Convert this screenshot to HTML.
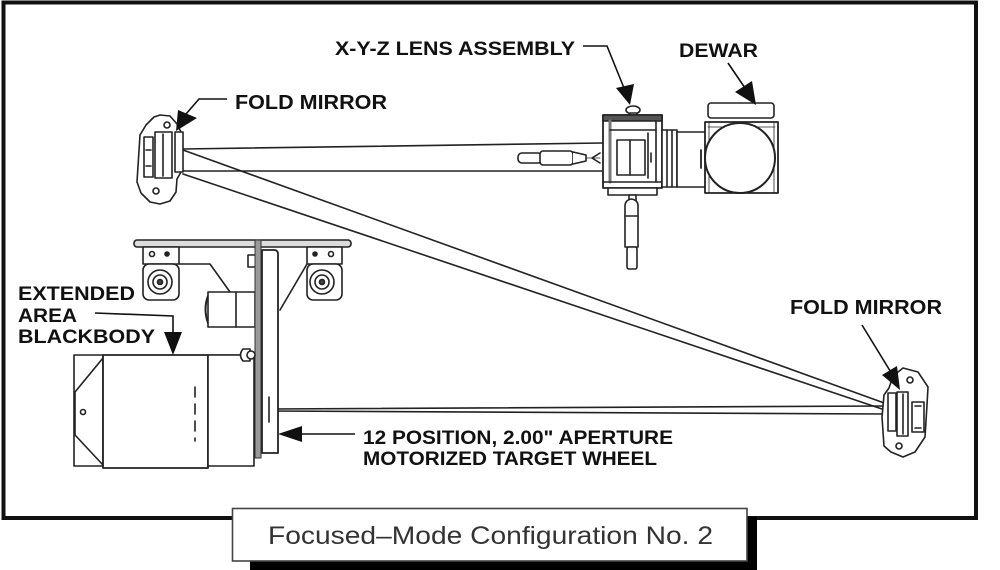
<!DOCTYPE html>
<html>
<head>
<meta charset="utf-8">
<style>
  html, body { margin:0; padding:0; background:#fff; }
  svg { display:block; }
  .lbl { font-family: "Liberation Sans", Arial, sans-serif; font-weight: bold; fill:#111; }
  .cap { font-family: "Liberation Sans", Arial, sans-serif; fill:#333; }
</style>
</head>
<body>
<svg width="1000" height="570" viewBox="0 0 1000 570" xmlns="http://www.w3.org/2000/svg">
  <rect x="0" y="0" width="1000" height="570" fill="#fff"/>

  <!-- outer frame -->
  <rect x="3.5" y="2.5" width="972.5" height="515.5" fill="none" stroke="#111" stroke-width="4"/>

  <g fill="none" stroke="#222" stroke-width="1.6" stroke-linejoin="round" stroke-linecap="round">
    <!-- beams -->
    <line x1="183" y1="149" x2="603" y2="143"/>
    <line x1="183" y1="171" x2="603" y2="171"/>
    <line x1="183" y1="150" x2="887" y2="404"/>
    <line x1="183" y1="174" x2="885" y2="410"/>
    <line x1="270" y1="409" x2="886" y2="406"/>
    <line x1="270" y1="411" x2="886" y2="414"/>

    <!-- top-left fold mirror -->
    <polygon points="160,115 170,116 177,124 181,132 181,172 177,179 176,192 170,201 160,204 150,202 141,193 137,182 140,135 146,125 154,117" fill="#fff"/>
    <rect x="144" y="137" width="9" height="40" fill="#fff"/>
    <line x1="146" y1="150" x2="151" y2="150"/>
    <line x1="146" y1="166" x2="151" y2="166"/>
    <rect x="155" y="132" width="17" height="46" fill="#fff"/>
    <line x1="163" y1="134" x2="163" y2="176"/>
    <rect x="175" y="132" width="8" height="40" fill="#fff"/>
    <circle cx="167" cy="125" r="3"/>
    <circle cx="156" cy="191" r="3"/>

    <!-- bottom-right fold mirror -->
    <polygon points="903,368 918,372 928,387 927,405 925,437 915,452 903,457 891,452 884,446 882,417 884,395 889,388 893,376" fill="#fff"/>
    <rect x="888" y="393" width="8" height="38" fill="#fff"/>
    <rect x="897" y="392" width="11" height="44" fill="#fff"/>
    <line x1="903" y1="394" x2="903" y2="434"/>
    <rect x="912" y="402" width="12" height="30" fill="#fff"/>
    <line x1="915" y1="406" x2="921" y2="406"/>
    <line x1="915" y1="428" x2="921" y2="428"/>
    <circle cx="910" cy="380" r="3"/>
    <circle cx="899" cy="446" r="3"/>

    <!-- lens assembly -->
    <line x1="518" y1="158" x2="600" y2="158" stroke-width="0.8"/>
    <rect x="518" y="153" width="24" height="10" rx="4" fill="#fff"/>
    <rect x="540" y="151" width="33" height="14" rx="3" fill="#fff"/>
    <path d="M573,152 L586,155 L586,161 L573,164" fill="#fff"/>
    <path d="M600,153 L592,158 L600,163"/>
    <ellipse cx="633" cy="110" rx="7" ry="4" fill="#fff"/>
    <rect x="630" y="113" width="7" height="9" fill="#fff"/>
    <rect x="603" y="115" width="59" height="73" fill="#fff" stroke-width="1.8"/>
    <rect x="603" y="115" width="59" height="6" fill="#555"/>
    <line x1="610" y1="121" x2="610" y2="182" stroke="#777" stroke-width="3"/>
    <line x1="656" y1="121" x2="656" y2="182"/>
    <line x1="610" y1="130" x2="656" y2="130"/>
    <rect x="617" y="140" width="28" height="35" fill="#fff"/>
    <line x1="630" y1="140" x2="630" y2="175"/>
    <line x1="648" y1="133" x2="648" y2="178"/>
    <line x1="651" y1="153" x2="651" y2="162"/>
    <line x1="603" y1="182" x2="662" y2="182"/>
    <rect x="608" y="188" width="49" height="7" fill="#fff"/>
    <rect x="662" y="130" width="15" height="57" fill="#fff"/>
    <line x1="667" y1="130" x2="667" y2="187"/>
    <line x1="672" y1="130" x2="672" y2="187"/>
    <rect x="677" y="132" width="30" height="55" fill="#fff"/>
    <!-- down rod -->
    <rect x="629" y="195" width="7" height="6" fill="#fff"/>
    <path d="M625,247 L625,206 Q625,200 631.5,199 Q638,200 638,206 L638,247 Z" fill="#fff"/>
    <line x1="625" y1="216" x2="638" y2="216"/>
    <rect x="627" y="247" width="10" height="22" rx="2" fill="#fff"/>

    <!-- dewar -->
    <rect x="705" y="122" width="73" height="71" fill="#fff" stroke-width="1.8"/>
    <line x1="708" y1="127" x2="775" y2="127" stroke-width="0.8"/>
    <line x1="709" y1="122" x2="709" y2="193" stroke-width="0.8"/>
    <line x1="774" y1="122" x2="774" y2="193" stroke-width="0.8"/>
    <rect x="708" y="103" width="66" height="15" rx="3" fill="#fff"/>
    <circle cx="740" cy="158" r="35" fill="#fff" stroke-width="2"/>
    <line x1="701" y1="150" x2="701" y2="168" stroke-width="1.8"/>

    <!-- blackbody assembly -->
    <rect x="134" y="240" width="217" height="7" rx="3" fill="#ddd"/>
    <rect x="143" y="247" width="36" height="17" fill="#fff"/>
    <circle cx="152" cy="254" r="2.5"/>
    <circle cx="167" cy="254" r="2" fill="#222"/>
    <rect x="143" y="264" width="36" height="36" rx="6" fill="#fff"/>
    <circle cx="160" cy="282" r="12"/>
    <circle cx="160" cy="282" r="7"/>
    <circle cx="160" cy="282" r="2.5" fill="#444"/>
    <rect x="307" y="247" width="35" height="17" fill="#fff"/>
    <circle cx="315" cy="254" r="2" fill="#222"/>
    <circle cx="331" cy="254" r="2.5"/>
    <rect x="307" y="264" width="35" height="36" rx="6" fill="#fff"/>
    <circle cx="322" cy="282" r="12"/>
    <circle cx="322" cy="282" r="7"/>
    <circle cx="322" cy="282" r="2.5" fill="#444"/>
    <line x1="280" y1="310" x2="307" y2="264"/>
    <path d="M179,264 L210,264 L230,292"/>
    <rect x="248" y="255" width="8" height="12" fill="#fff"/>
    <!-- motor unit -->
    <path d="M208,296 Q203,309 208,323" stroke-width="2"/>
    <rect x="208" y="292" width="47" height="35" fill="#fff"/>
    <line x1="236" y1="292" x2="236" y2="327"/>
    <!-- target wheel -->
    <path d="M262,250 L274,250 Q278,250 278,254 L278,453 L262,453 Z" fill="#fff" stroke-width="1.8"/>
    <rect x="255" y="240" width="6" height="218" fill="#999" stroke="#333" stroke-width="1"/>
    <line x1="269" y1="397" x2="269" y2="422"/>
    <!-- blackbody -->
    <line x1="208" y1="355" x2="242" y2="355"/>
    <rect x="74" y="355" width="29" height="111" fill="#fff"/>
    <path d="M103,358 L75,392 L75,435 L103,465"/>
    <circle cx="83" cy="412" r="2.5"/>
    <rect x="103" y="355" width="105" height="113" fill="#fff" stroke-width="1.8"/>
    <rect x="208" y="355" width="46" height="111" fill="#fff"/>
    <line x1="195" y1="387" x2="195" y2="441" stroke-dasharray="10,7"/>
    <path d="M243,349 Q238,355 243,361 L250,361 L250,349 Z" fill="#fff"/>
    <circle cx="251" cy="355" r="4" fill="#fff"/>
  </g>

  <!-- leaders + arrowheads -->
  <g fill="none" stroke="#111" stroke-width="1.6">
    <path d="M227,99 L199,99 L186,114"/>
    <path d="M583,46 L607,46 L624,88"/>
    <path d="M728,63 L745,88"/>
    <path d="M862,325 L892,374"/>
    <path d="M95,313 L173,316 L173,333"/>
    <path d="M302,434 L355,434"/>
  </g>
  <g fill="#111" stroke="none">
    <polygon points="178,110 197,118 176,131"/>
    <polygon points="616,88 634,84 630,105"/>
    <polygon points="735,92 752,81 756,105"/>
    <polygon points="882,375 897,366 900,390"/>
    <polygon points="164,332 182,332 173,355"/>
    <polygon points="278,434 302,426 302,442"/>
  </g>

  <!-- labels -->
  <text class="lbl" x="335" y="55" font-size="19" textLength="240" lengthAdjust="spacingAndGlyphs">X-Y-Z LENS ASSEMBLY</text>
  <text class="lbl" x="679" y="57" font-size="19" textLength="79" lengthAdjust="spacingAndGlyphs">DEWAR</text>
  <text class="lbl" x="235" y="109" font-size="20" textLength="152" lengthAdjust="spacingAndGlyphs">FOLD MIRROR</text>
  <text class="lbl" x="790" y="314" font-size="20" textLength="152" lengthAdjust="spacingAndGlyphs">FOLD MIRROR</text>
  <text class="lbl" x="18" y="300" font-size="19" textLength="117" lengthAdjust="spacingAndGlyphs">EXTENDED</text>
  <text class="lbl" x="18" y="322" font-size="19" textLength="59" lengthAdjust="spacingAndGlyphs">AREA</text>
  <text class="lbl" x="18" y="343" font-size="19" textLength="137" lengthAdjust="spacingAndGlyphs">BLACKBODY</text>
  <text class="lbl" x="363" y="444" font-size="19" textLength="310" lengthAdjust="spacingAndGlyphs">12 POSITION, 2.00" APERTURE</text>
  <text class="lbl" x="363" y="465" font-size="19" textLength="294" lengthAdjust="spacingAndGlyphs">MOTORIZED TARGET WHEEL</text>

  <!-- caption box with shadow -->
  <rect x="250" y="517" width="507" height="53" fill="#000"/>
  <rect x="232.5" y="508.5" width="514.5" height="52.5" fill="#fff" stroke="#444" stroke-width="1.6"/>
  <text class="cap" x="268" y="544" font-size="25" textLength="445" lengthAdjust="spacingAndGlyphs">Focused–Mode Configuration No. 2</text>
</svg>
</body>
</html>
